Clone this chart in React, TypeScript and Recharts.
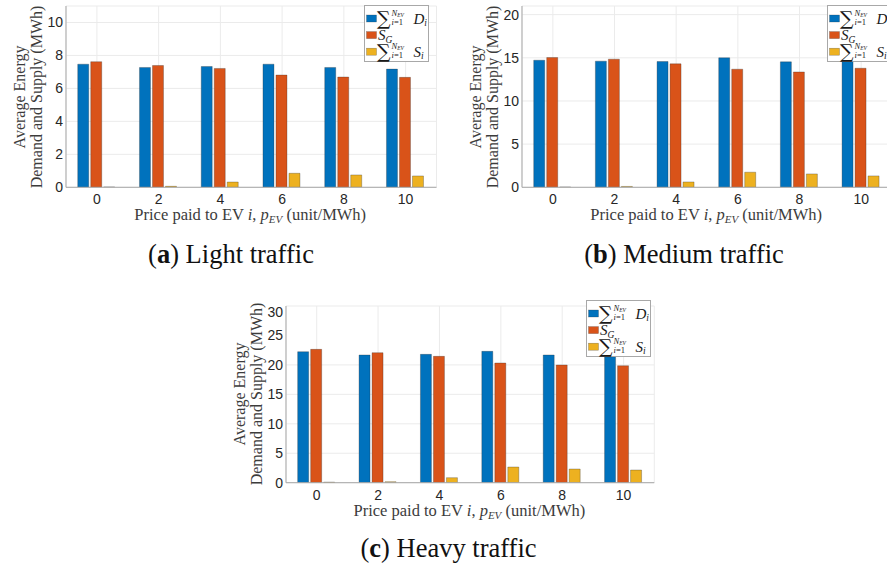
import React from 'react';
import { BarChart, Bar, XAxis, YAxis, CartesianGrid, Legend } from 'recharts';

// ---------- data ----------
const prices = ['0', '2', '4', '6', '8', '10'];

const lightDemand = [7.47, 7.27, 7.33, 7.47, 7.27, 7.17];
const lightGrid = [7.62, 7.39, 7.21, 6.81, 6.69, 6.67];
const lightEV = [0.02, 0.06, 0.32, 0.85, 0.75, 0.69];

const mediumDemand = [14.72, 14.61, 14.57, 15.0, 14.53, 14.76];
const mediumGrid = [15.03, 14.84, 14.3, 13.68, 13.36, 13.79];
const mediumEV = [0.03, 0.1, 0.62, 1.75, 1.55, 1.32];

const heavyDemand = [22.24, 21.68, 21.79, 22.3, 21.68, 21.39];
const heavyGrid = [22.64, 22.07, 21.45, 20.32, 19.98, 19.86];
const heavyEV = [0.1, 0.17, 0.85, 2.66, 2.32, 2.15];

const lightTicks = [0, 2, 4, 6, 8, 10];
const mediumTicks = [0, 5, 10, 15, 20];
const heavyTicks = [0, 5, 10, 15, 20, 25, 30];

const seriesOrder = ['demand', 'grid', 'ev'];

// ---------- styles ----------
const serif = '"Liberation Serif", "Times New Roman", serif';
const sans = '"Liberation Sans", Arial, Helvetica, sans-serif';
const BLUE = '#0072BD';
const ORANGE = '#D95319';
const YELLOW = '#EDB120';
const BOX = '#a8a8a8';
const GRID = '#ebebeb';
const LABEL = '#3c3c3c';

const makeRows = (d: number[], g: number[], e: number[]) =>
  prices.map((p, i) => ({ price: p, demand: d[i], grid: g[i], ev: e[i] }));

const LEG_W = 65;
const LEG_H = 57;
const ROW0 = 12.5;
const ROW_STEP = 16.6;

const LegendLabel = ({ k, cy }: { k: string; cy: number }) => {
  if (k === 'grid') {
    return (
      <text x={13} y={cy + 5} fontFamily={serif} fill="#1a1a1a">
        <tspan fontSize={15} fontStyle="italic">S</tspan>
        <tspan fontSize={9.5} fontStyle="italic" dy={2.5}>G</tspan>
      </text>
    );
  }
  const sym = k === 'demand' ? 'D' : 'S';
  return (
    <g fill="#1a1a1a">
      <text x={12} y={cy + 6.5} fontSize={19} fontFamily='"DejaVu Serif", serif'>∑</text>
      <text x={26.5} y={cy - 2.5} fontSize={8.5} fontStyle="italic" fontFamily={serif}>
        N<tspan fontSize={5.5} dy={1}>EV</tspan>
      </text>
      <text x={26.5} y={cy + 6.5} fontSize={8.5} fontFamily={serif}>
        <tspan fontStyle="italic">i</tspan>=1
      </text>
      <text x={48.5} y={cy + 5} fontSize={15} fontStyle="italic" fontFamily={serif}>
        {sym}
        <tspan fontSize={9.5} dy={2.5}>i</tspan>
      </text>
    </g>
  );
};

const renderLegend = (props: any) => {
  const payload = [...(props.payload || [])].sort(
    (a: any, b: any) => seriesOrder.indexOf(a.dataKey) - seriesOrder.indexOf(b.dataKey)
  );
  return (
    <div
      style={{
        width: LEG_W,
        height: LEG_H,
        boxSizing: 'border-box',
        border: `1px solid ${BOX}`,
        background: '#fff',
        lineHeight: 0,
      }}
    >
      <svg width={LEG_W - 2} height={LEG_H - 2} style={{ display: 'block', overflow: 'visible' }}>
        {payload.map((entry: any, i: number) => {
          const cy = ROW0 + i * ROW_STEP;
          return (
            <g key={entry.dataKey}>
              <rect x={1.5} y={cy - 3.5} width={10} height={7} fill={entry.color} stroke="#333" strokeOpacity={0.5} strokeWidth={0.5} />
              <LegendLabel k={entry.dataKey} cy={cy} />
            </g>
          );
        })}
      </svg>
    </div>
  );
};

type PanelProps = {
  demand: number[];
  grid: number[];
  ev: number[];
  yMax: number;
  ticks: number[];
  plotLeft: number;
  plotTop: number;
  plotWidth: number;
  plotHeight: number;
  legendLeft: number;
  legendTop: number;
  caption: React.ReactNode;
  captionX: number;
  captionY: number;
};

const YW = 60;
const MT = 2;
const XH = 44;

const Panel = (p: PanelProps) => {
  const rows = makeRows(p.demand, p.grid, p.ev);
  const chartLeft = p.plotLeft - YW;
  const chartTop = p.plotTop - MT;
  const width = YW + p.plotWidth + 2;
  const height = MT + p.plotHeight + XH;
  const midY = p.plotTop + p.plotHeight / 2;
  const midX = p.plotLeft + p.plotWidth / 2;
  return (
    <>
      <div style={{ position: 'absolute', left: chartLeft, top: chartTop, width, height }}>
        <BarChart
          width={width}
          height={height}
          data={rows}
          margin={{ top: MT, right: 1, bottom: 0, left: 0 }}
          barCategoryGap="19%"
          barGap={2}
        >
          <CartesianGrid stroke={GRID} strokeWidth={1} />
          <XAxis
            dataKey="price"
            type="category"
            interval={0}
            height={XH}
            tickSize={0}
            tickMargin={7}
            tickLine={false}
            axisLine={{ stroke: BOX }}
            tick={{ fill: '#262626', fontSize: 14, fontFamily: sans }}
          />
          <XAxis xAxisId="top" orientation="top" dataKey="price" height={0} tick={false} tickLine={false} axisLine={{ stroke: BOX }} />
          <YAxis
            type="number"
            domain={[0, p.yMax]}
            ticks={p.ticks}
            allowDataOverflow
            width={YW}
            tickSize={0}
            tickMargin={3}
            tickLine={false}
            axisLine={{ stroke: BOX }}
            tick={{ fill: '#262626', fontSize: 14, fontFamily: sans }}
          />
          <YAxis yAxisId="right" orientation="right" width={0} domain={[0, p.yMax]} tick={false} tickLine={false} axisLine={{ stroke: BOX }} />
          <Bar dataKey="demand" name="demand" fill={BLUE} stroke="#2b2b2b" strokeOpacity={0.5} strokeWidth={0.6} isAnimationActive={false} />
          <Bar dataKey="grid" name="grid" fill={ORANGE} stroke="#2b2b2b" strokeOpacity={0.5} strokeWidth={0.6} isAnimationActive={false} />
          <Bar dataKey="ev" name="ev" fill={YELLOW} stroke="#2b2b2b" strokeOpacity={0.5} strokeWidth={0.6} isAnimationActive={false} />
          <Legend
            layout="horizontal"
            align="center"
            verticalAlign="middle"
            content={renderLegend}
            wrapperStyle={{
              position: 'absolute',
              left: p.legendLeft - chartLeft,
              top: p.legendTop - chartTop,
              width: LEG_W,
              height: LEG_H,
            }}
          />
        </BarChart>
      </div>
      {/* y-axis title */}
      <div
        style={{
          position: 'absolute',
          left: p.plotLeft - 37.5,
          top: midY,
          transform: 'translate(-50%, -50%) rotate(-90deg)',
          fontFamily: serif,
          fontSize: 16,
          lineHeight: '16.5px',
          color: LABEL,
          whiteSpace: 'nowrap',
          textAlign: 'center',
        }}
      >
        Average Energy
        <br />
        Demand and Supply (MWh)
      </div>
      {/* x-axis title */}
      <div
        style={{
          position: 'absolute',
          left: midX,
          top: p.plotTop + p.plotHeight + 28,
          transform: 'translate(-50%, -50%)',
          fontFamily: serif,
          fontSize: 16.5,
          lineHeight: '18px',
          color: LABEL,
          whiteSpace: 'nowrap',
        }}
      >
        Price paid to EV <i>i</i>, <i>p</i>
        <i style={{ fontSize: 11, verticalAlign: '-0.3em', lineHeight: 0 }}>EV</i> (unit/MWh)
      </div>
      {/* caption */}
      <div
        style={{
          position: 'absolute',
          left: p.captionX,
          top: p.captionY,
          transform: 'translate(-50%, -50%)',
          fontFamily: serif,
          fontSize: 26.5,
          lineHeight: '28px',
          color: '#111',
          whiteSpace: 'nowrap',
        }}
      >
        {p.caption}
      </div>
    </>
  );
};

export default function App() {
  return (
    <div
      style={{
        position: 'absolute',
        left: 0,
        top: 0,
        width: 887,
        height: 565,
        overflow: 'hidden',
        background: '#fff',
      }}
    >
      <Panel
        demand={lightDemand}
        grid={lightGrid}
        ev={lightEV}
        yMax={11}
        ticks={lightTicks}
        plotLeft={65.5}
        plotTop={6}
        plotWidth={369.5}
        plotHeight={181.3}
        legendLeft={364}
        legendTop={5}
        caption={
          <>
            (<b>a</b>) Light traffic
          </>
        }
        captionX={231}
        captionY={254}
      />
      <Panel
        demand={mediumDemand}
        grid={mediumGrid}
        ev={mediumEV}
        yMax={21}
        ticks={mediumTicks}
        plotLeft={521.7}
        plotTop={6}
        plotWidth={369}
        plotHeight={181.3}
        legendLeft={827}
        legendTop={5}
        caption={
          <>
            (<b>b</b>) Medium traffic
          </>
        }
        captionX={684}
        captionY={254}
      />
      <Panel
        demand={heavyDemand}
        grid={heavyGrid}
        ev={heavyEV}
        yMax={30}
        ticks={heavyTicks}
        plotLeft={285.7}
        plotTop={306}
        plotWidth={367.3}
        plotHeight={176.7}
        legendLeft={586}
        legendTop={300}
        caption={
          <>
            (<b>c</b>) Heavy traffic
          </>
        }
        captionX={448.5}
        captionY={548}
      />
    </div>
  );
}
